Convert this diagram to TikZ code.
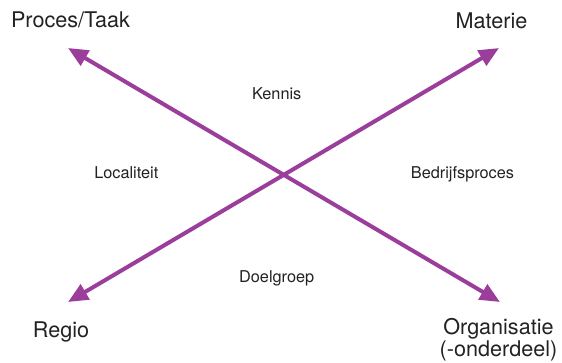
\documentclass[tikz,border=0pt]{standalone}
\usepackage{fontspec}
\setmainfont{TeX Gyre Heros}
\usetikzlibrary{arrows.meta}
\definecolor{arrowpurple}{RGB}{155,62,155}
\definecolor{txt}{RGB}{34,34,34}
\begin{document}
\begin{tikzpicture}[x=1pt,y=-1pt,
  big/.style={font=\fontsize{21.6}{18.5}\selectfont, text=txt, anchor=base, inner sep=0pt, align=center},
  small/.style={font=\fontsize{16.3}{18}\selectfont, text=txt, anchor=base, inner sep=0pt},
  axis/.style={draw=arrowpurple, line width=4pt, {Triangle[length=20pt,width=17pt]}-{Triangle[length=20pt,width=17pt]}}]
\useasboundingbox (0,0) rectangle (562,362);
\coordinate (pt) at (68,48);
\coordinate (mt) at (499,48);
\coordinate (rt) at (68,302);
\coordinate (ot) at (500,302);
\draw[axis] (pt) -- (ot);
\draw[axis] (rt) -- (mt);
\node[big] (proces) at (70.5,27.5) {Proces/Taak};
\node[big] (materie) at (491.5,28.3) {Materie};
\node[big] (regio) at (61,337.7) {Regio};
\node[big] (org) at (498.5,356) {Organisatie\\(-onderdeel)};
\node[small] (kennis) at (276.7,99) {Kennis};
\node[small] (loc) at (126.3,178.3) {Localiteit};
\node[small] (bedr) at (462.5,178.2) {Bedrijfsproces};
\node[small] (doel) at (276.7,282.3) {Doelgroep};
\end{tikzpicture}
\end{document}
